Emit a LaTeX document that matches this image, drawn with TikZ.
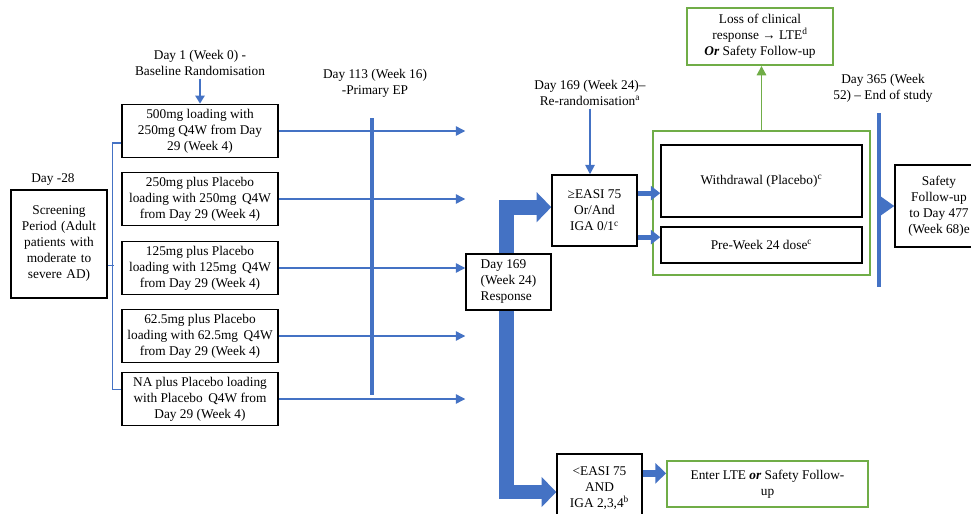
\documentclass[tikz,border=0pt]{standalone}
\usepackage{fontspec}
\setmainfont{Liberation Serif}
\usetikzlibrary{arrows.meta, positioning, backgrounds}
\definecolor{armblue}{HTML}{4472C4}
\definecolor{lteg}{HTML}{70AD47}

\begin{document}
\begin{tikzpicture}[x=0.75pt, y=-0.75pt, font=\fontsize{10}{12}\selectfont,
  box/.style={draw, line width=1.1pt, fill=white, align=center, inner sep=2pt},
  gbox/.style={draw=lteg, line width=1.4pt, fill=white, align=center, inner sep=2pt},
  lbl/.style={align=center, inner sep=2pt},
  dose/.style={box, minimum width=117pt, minimum height=40pt},
  thinarr/.style={armblue, line width=1pt, -{Triangle[length=7pt,width=7pt]}},
  medarr/.style={armblue, line width=3.5pt, -{Triangle[length=7pt,width=10.5pt]}},
  bigarr/.style={armblue, line width=11pt, -{Triangle[length=11pt,width=22pt]}},
  milestone/.style={armblue, line width=3pt}]
  \useasboundingbox (0,0) rectangle (971,514);

  % screening
  \node[lbl] (d28) at (53,180) {Day -28};
  \node[box, text width=68pt, minimum height=81pt] (screen) at (59,244)
    {Screening\\Period (Adult\\patients with\\moderate to\\severe AD)};

  % randomised arms
  \node[lbl] (d1) at (200,63) {Day 1 (Week 0) -\\Baseline Randomisation};
  \node[dose] (d500) at (200,131) {500mg loading with\\250mg Q4W from Day\\29 (Week 4)};
  \node[dose] (d250) at (200,199) {250mg plus Placebo\\loading with 250mg\, Q4W\\from Day 29 (Week 4)};
  \node[dose] (d125) at (200,268) {125mg plus Placebo\\loading with 125mg\, Q4W\\from Day 29 (Week 4)};
  \node[dose] (d62) at (200,336) {62.5mg plus Placebo\\loading with 62.5mg\, Q4W\\from Day 29 (Week 4)};
  \node[dose] (dNA) at (200,399) {NA plus Placebo loading\\with Placebo\, Q4W from\\Day 29 (Week 4)};

  \draw[armblue, line width=1.3pt, -{Triangle[length=6pt,width=7pt]}] (d1.south) -- (d500.north);

  \coordinate (b1) at ([yshift=-9pt]d500.west);
  \coordinate (b5) at ([yshift=7pt]dNA.west);
  \draw[armblue, line width=1pt] (b1) -- ++(-9,0) |- (b5);
  \draw[armblue, line width=1pt] ([yshift=-16pt]screen.east) -- ++(6,0);

  % week 16
  \node[lbl] (d113) at (375,83) {Day 113 (Week 16)\\-Primary EP};
  \coordinate (t113a) at (372,118);
  \coordinate (t113b) at (372,395);
  \draw[milestone] (t113a) -- (t113b);

  % week 24
  \node[box, align=left, minimum width=63.75pt, minimum height=42pt] (resp) at (508.5,282)
    {Day 169\\(Week 24)\\Response};
  \node[lbl] (rerand) at (590,93) {Day 169 (Week 24)–\\Re-randomisation\textsuperscript{a}};
  \node[box, minimum width=63.75pt, minimum height=53.25pt] (easi) at (594.5,210.5)
    {≥EASI 75\\Or/And\\IGA 0/1\textsuperscript{c}};
  \node[box, minimum width=63.75pt, minimum height=51pt] (lowe) at (599.5,488)
    {<EASI 75\\AND\\IGA 2,3,4\textsuperscript{b}};

  \foreach \arm in {d500,d250,d125,d62,dNA}
    \draw[thinarr] (\arm.east) -- (\arm.east -| resp.west);

  \begin{scope}[on background layer]
    \draw[bigarr] ([xshift=-1.5pt]resp.north) |- ([yshift=2.5pt]easi.west);
    \draw[bigarr] ([xshift=-1.5pt]resp.south) |- ([yshift=-3pt]lowe.west);
  \end{scope}

  \draw[armblue, line width=1.3pt, -{Triangle[length=7pt,width=7pt]}] (rerand.south) -- (rerand.south |- easi.north);

  % randomised withdrawal
  \node[gbox, minimum width=162.75pt, minimum height=108pt] (grp) at (761.5,203) {};
  \node[box, minimum width=150.75pt, minimum height=54pt] (withdraw) at (761.5,181)
    {Withdrawal (Placebo)\textsuperscript{c}};
  \node[box, minimum width=150.75pt, minimum height=27pt] (pre) at (761.5,245)
    {Pre-Week 24 dose\textsuperscript{c}};
  \node[gbox, minimum width=109.5pt, minimum height=42.75pt] (loss) at (760,36.5)
    {Loss of clinical\\response → LTE\textsuperscript{d}\\\textbf{\textit{Or}} Safety Follow-up};

  \draw[medarr] ([yshift=13pt]easi.east) -- ([yshift=13pt]easi.east -| withdraw.west);
  \draw[medarr] ([yshift=-20pt]easi.east) -- ([yshift=-20pt]easi.east -| pre.west);
  \draw[lteg, line width=1.4pt, -{Triangle[length=7pt,width=7pt]}] (grp.north) -- (grp.north |- loss.south);

  \node[gbox, minimum width=150.75pt, minimum height=34.5pt] (enter) at (767.5,484)
    {Enter LTE \textbf{\textit{or}} Safety Follow-\\up};
  \draw[armblue, line width=5.5pt, -{Triangle[length=8pt,width=15pt]}] ([yshift=11pt]lowe.east) -- ([yshift=11pt]lowe.east -| enter.west);

  % end of study
  \node[lbl] (d365) at (883,88) {Day 365 (Week\\52) – End of study};
  \coordinate (t365a) at (879,113);
  \coordinate (t365b) at (879,287);
  \draw[milestone] (t365a) -- (t365b);
  \node[box, minimum width=66pt, minimum height=61.5pt] (safety) at (939,206)
    {Safety\\Follow-up\\to Day 477\\(Week 68)e};
  \draw[armblue, line width=2pt, -{Triangle[length=11pt,width=15pt]}] (t365a |- safety.west) -- (safety.west);
\end{tikzpicture}
\end{document}
